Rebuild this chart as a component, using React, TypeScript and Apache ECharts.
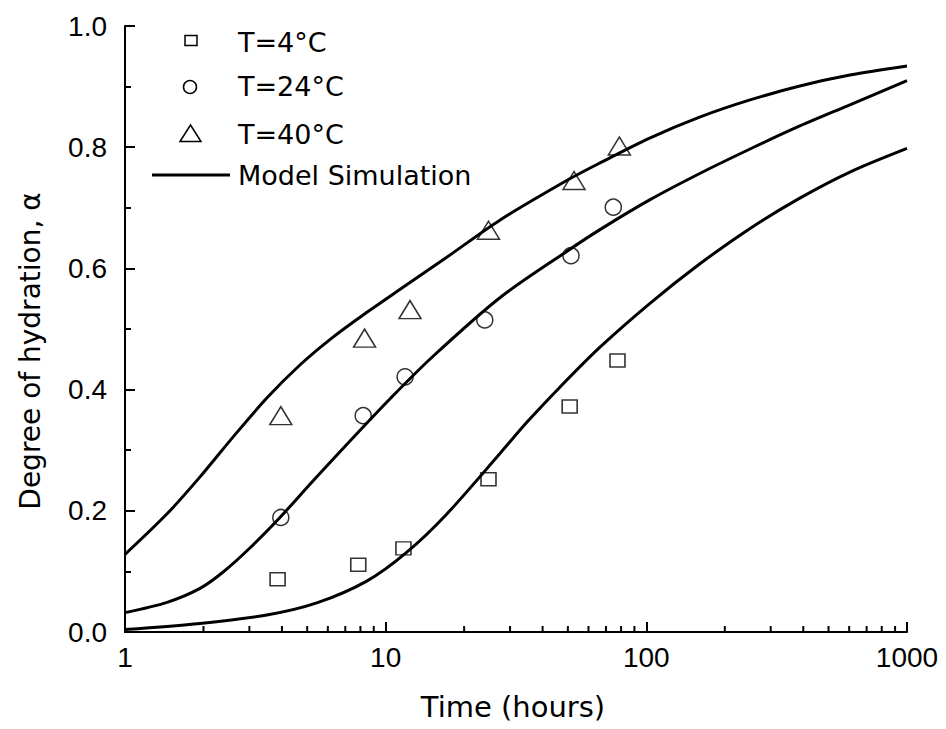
import React, { useEffect, useRef } from "react";
import * as echarts from "echarts";

// Model simulation curves [time (h), degree of hydration]
const model40C: number[][] = [
  [1, 0.128], [1.45, 0.195], [1.94, 0.256], [2.6, 0.322], [3.5, 0.386], [4.7, 0.441],
  [6.3, 0.487], [8.5, 0.528], [11.4, 0.566], [17.1, 0.618], [27.5, 0.68], [49.5, 0.745],
  [66.4, 0.774], [103, 0.815], [161, 0.85], [250, 0.878], [388, 0.901], [604, 0.919], [1000, 0.934],
];
const model24C: number[][] = [
  [1, 0.032], [1.45, 0.049], [1.94, 0.072], [2.38, 0.099], [3.02, 0.139], [3.93, 0.189],
  [5.28, 0.25], [7.51, 0.321], [10.4, 0.385], [15.2, 0.455], [27.5, 0.552], [49.5, 0.628],
  [66.4, 0.664], [103, 0.713], [161, 0.757], [250, 0.797], [388, 0.835], [604, 0.87], [1000, 0.91],
];
const model4C: number[][] = [
  [1, 0.004], [1.94, 0.014], [3.5, 0.028], [5.44, 0.048], [8.46, 0.084], [12, 0.131],
  [17.1, 0.194], [27.5, 0.295], [34.8, 0.346], [46.6, 0.404], [66.4, 0.47], [103, 0.542],
  [161, 0.608], [250, 0.666], [388, 0.716], [604, 0.759], [1000, 0.798],
];

// Measured points
const data4C: number[][] = [
  [3.85, 0.087], [7.85, 0.111], [11.7, 0.138], [24.8, 0.252], [50.8, 0.372], [77.5, 0.448],
];
const data24C: number[][] = [
  [3.96, 0.189], [8.2, 0.357], [11.87, 0.421], [24, 0.515], [51.4, 0.621], [74.7, 0.701],
];
const data40C: number[][] = [
  [3.96, 0.357], [8.3, 0.485], [12.4, 0.532], [24.8, 0.663], [52.8, 0.745], [78.8, 0.802],
];

const xMinorTicks: number[] = [
  2, 3, 4, 5, 6, 7, 8, 9, 20, 30, 40, 50, 60, 70, 80, 90, 200, 300, 400, 500, 600, 700, 800, 900,
];

const legendLabels = ["T=4°C", "T=24°C", "T=40°C", "Model Simulation"];
const xTitle = "Time (hours)";
const yTitle = "Degree of hydration, α";

const WORD_FONT = "DejaVu Sans";
const NUM_FONT = "Liberation Sans";

export default function App() {
  const ref = useRef<HTMLDivElement>(null);

  useEffect(() => {
    const chart = echarts.init(ref.current!, null, { renderer: "svg" });
    const marker = {
      color: "rgba(0,0,0,0)",
      borderColor: "#000",
      borderWidth: 1.5,
    };
    const lineSeries = (data: number[][]) => ({
      type: "line",
      data,
      symbol: "none",
      showSymbol: false,
      smooth: 0.3,
      lineStyle: { color: "#000", width: 3 },
      z: 3,
      silent: true,
    });
    const legendText = (text: string, y: number) => ({
      type: "text",
      x: 238,
      y,
      style: {
        text,
        fontFamily: WORD_FONT,
        fontSize: 27,
        fill: "#000",
        align: "left",
        verticalAlign: "middle",
        textAlign: "left",
        textVerticalAlign: "middle",
      },
    });
    const legendStroke = { fill: "none", stroke: "#000", lineWidth: 1.5 };

    chart.setOption({
      animation: false,
      backgroundColor: "#fff",
      grid: { left: 125, right: 39, top: 26, bottom: 97 },
      xAxis: {
        type: "log",
        logBase: 10,
        min: 1,
        max: 1000,
        axisLine: { show: true, lineStyle: { color: "#000", width: 2 } },
        axisTick: { show: true, inside: true, length: 10, lineStyle: { color: "#000", width: 2 } },
        minorTick: { show: false },
        splitLine: { show: false },
        axisLabel: {
          color: "#000",
          fontFamily: NUM_FONT,
          fontSize: 28,
          margin: 11,
          formatter: (v: number) => String(Math.round(v)),
        },
      },
      yAxis: {
        type: "value",
        min: 0,
        max: 1,
        interval: 0.2,
        axisLine: { show: true, lineStyle: { color: "#000", width: 2 } },
        axisTick: { show: true, inside: true, length: 10, lineStyle: { color: "#000", width: 2 } },
        minorTick: { show: true, splitNumber: 2, length: 6, lineStyle: { color: "#000", width: 2 } },
        splitLine: { show: false },
        minorSplitLine: { show: false },
        axisLabel: {
          color: "#000",
          fontFamily: NUM_FONT,
          fontSize: 28,
          margin: 18,
          formatter: (v: number) => v.toFixed(1),
        },
      },
      series: [
        {
          type: "scatter",
          data: data4C,
          symbol: "rect",
          symbolSize: [15, 13],
          itemStyle: marker,
          z: 2,
          silent: true,
        },
        {
          type: "scatter",
          data: data24C,
          symbol: "circle",
          symbolSize: 16,
          itemStyle: marker,
          z: 2,
          silent: true,
        },
        {
          type: "scatter",
          data: data40C,
          symbol: "triangle",
          symbolSize: [22, 18],
          itemStyle: marker,
          z: 2,
          silent: true,
        },
        lineSeries(model40C),
        lineSeries(model24C),
        lineSeries(model4C),
        {
          type: "custom",
          data: xMinorTicks.map((v) => [v, 0]),
          clip: false,
          silent: true,
          z: 4,
          renderItem: (_params: any, api: any) => {
            const p = api.coord([api.value(0), 0]);
            return {
              type: "line",
              shape: { x1: p[0], y1: p[1], x2: p[0], y2: p[1] - 6 },
              style: { stroke: "#000", lineWidth: 2 },
            };
          },
        },
      ],
      graphic: [
        { type: "rect", shape: { x: 185, y: 35.5, width: 12, height: 10 }, style: legendStroke },
        { type: "circle", shape: { cx: 190, cy: 87, r: 6.5 }, style: legendStroke },
        {
          type: "polygon",
          shape: { points: [[190.5, 125], [201, 141.5], [180, 141.5]] },
          style: legendStroke,
        },
        { type: "line", shape: { x1: 152, y1: 175, x2: 230, y2: 175 }, style: { stroke: "#000", lineWidth: 3 } },
        legendText(legendLabels[0], 42),
        legendText(legendLabels[1], 86),
        legendText(legendLabels[2], 134),
        legendText(legendLabels[3], 175),
        {
          type: "text",
          x: 513,
          y: 707,
          style: {
            text: xTitle,
            fontFamily: WORD_FONT,
            fontSize: 29,
            fill: "#000",
            align: "center",
            verticalAlign: "middle",
            textAlign: "center",
            textVerticalAlign: "middle",
          },
        },
        {
          type: "text",
          x: 30,
          y: 351,
          rotation: Math.PI / 2,
          style: {
            text: yTitle,
            fontFamily: WORD_FONT,
            fontSize: 28,
            fill: "#000",
            align: "center",
            verticalAlign: "middle",
            textAlign: "center",
            textVerticalAlign: "middle",
          },
        },
      ],
    });
    return () => chart.dispose();
  }, []);

  return (
    <div
      ref={ref}
      style={{ position: "fixed", left: 0, top: 0, width: 946, height: 729, background: "#fff" }}
    />
  );
}
